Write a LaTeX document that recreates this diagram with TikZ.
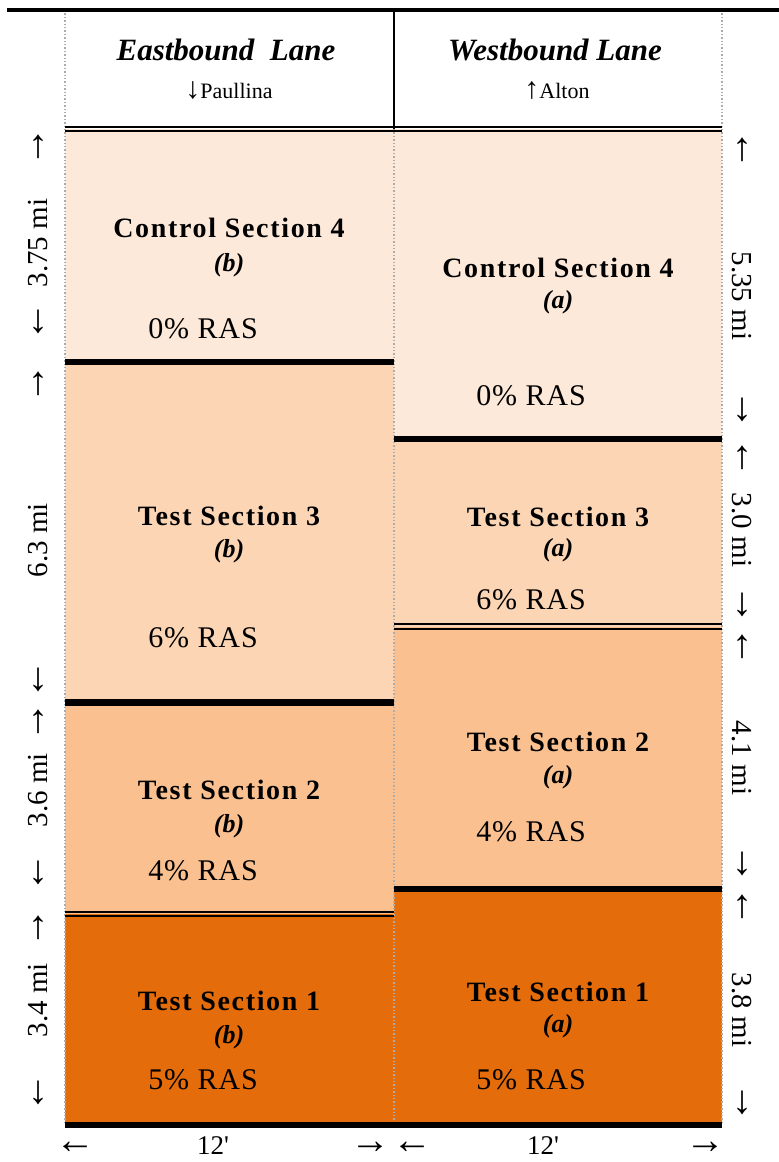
\documentclass[tikz,border=0pt]{standalone}
\usepackage{fontspec}
\setmainfont{Liberation Serif}
\newfontfamily\titlefont{Liberation Serif}[LetterSpace=6]
\newfontfamily\rasfont{Liberation Serif}[LetterSpace=3]
\newfontfamily\plainfont{Liberation Serif}
\definecolor{cfour}{HTML}{FDE9D9}
\definecolor{tthree}{HTML}{FCD5B4}
\definecolor{ttwo}{HTML}{FAC090}
\definecolor{tone}{HTML}{E46C0A}
\newcommand{\midarr}[1]{{\fontsize{30}{30}\selectfont #1}}
\begin{document}
\begin{tikzpicture}[x=1pt,y=-1pt,
  ttl/.style={inner sep=0pt,font=\titlefont\bfseries\fontsize{28}{30}\selectfont},
  sub/.style={inner sep=0pt,font=\bfseries\itshape\fontsize{26}{28}\selectfont},
  ras/.style={inner sep=0pt,font=\rasfont\fontsize{30}{32}\selectfont},
  hdr/.style={inner sep=0pt,font=\bfseries\itshape\fontsize{31}{33}\selectfont},
  hsub/.style={inner sep=0pt,font=\fontsize{22}{24}\selectfont},
  side/.style={inner sep=0pt,font=\fontsize{29}{32}\selectfont},
  arr/.style={inner sep=0pt,font=\fontsize{40}{40}\selectfont},
  thicksep/.style={line width=6.5pt},
  thinsep/.style={line width=2pt},
  border/.style={draw=gray!65,line width=1.4pt,dotted}
]
\useasboundingbox (0,0) rectangle (779,1162);
\fill[white] (0,0) rectangle (779,1162);
% section fills
\fill[cfour]  (65,129) rectangle (394,362);
\fill[tthree] (65,362) rectangle (394,702.5);
\fill[ttwo]   (65,702.5) rectangle (394,913.7);
\fill[tone]   (65,913.7) rectangle (394,1125);
\fill[cfour]  (394,129) rectangle (722,439);
\fill[tthree] (394,439) rectangle (722,626.5);
\fill[ttwo]   (394,626.5) rectangle (722,889);
\fill[tone]   (394,889) rectangle (722,1125);
% borders
\draw[border] (65,10) -- (65,1125);
\draw[border] (722,10) -- (722,1125);
\draw[border] (394,129) -- (394,1125);
\draw[line width=2.5pt] (394,10) -- (394,129);
\draw[line width=4pt] (7,10.3) -- (779,10.3);
% header double line
\draw[thinsep] (65,126.8) -- (722,126.8);
\draw[thinsep] (65,131.2) -- (722,131.2);
% left separators
\draw[thicksep] (65,362) -- (394,362);
\draw[thicksep] (65,702.5) -- (394,702.5);
\draw[thinsep] (65,911.7) -- (394,911.7);
\draw[thinsep] (65,915.7) -- (394,915.7);
% right separators
\draw[thicksep] (394,439) -- (722,439);
\draw[thinsep] (394,624.3) -- (722,624.3);
\draw[thinsep] (394,628.7) -- (722,628.7);
\draw[thicksep] (394,889) -- (722,889);
% bottom line
\draw[thicksep] (65,1125) -- (722,1125);
% header texts
\node[hdr] (eh) at (226,50) {Eastbound\ \ Lane};
\node[hsub] (ehs) at (229,91) {\midarr{↓}Paullina};
\node[hdr] (wh) at (555,50) {Westbound Lane};
\node[hsub] (whs) at (557,91) {\midarr{↑}Alton};
% left column texts
\node[ttl] (l4t) at (229,228) {Control Section 4};
\node[sub] (l4s) at (229,265) {(b)};
\node[ras] (l4r) at (203,329) {0\% RAS};
\node[ttl] (l3t) at (229,516) {Test Section 3};
\node[sub] (l3s) at (229,551) {(b)};
\node[ras] (l3r) at (203,638) {6\% RAS};
\node[ttl] (l2t) at (229,790) {Test Section 2};
\node[sub] (l2s) at (229,826) {(b)};
\node[ras] (l2r) at (203,871) {4\% RAS};
\node[ttl] (l1t) at (229,1001) {Test Section 1};
\node[sub] (l1s) at (229,1037) {(b)};
\node[ras] (l1r) at (203,1080) {5\% RAS};
% right column texts
\node[ttl] (r4t) at (558,268) {Control Section 4};
\node[sub] (r4s) at (558,302) {(a)};
\node[ras] (r4r) at (531,396) {0\% RAS};
\node[ttl] (r3t) at (558,517) {Test Section 3};
\node[sub] (r3s) at (558,550) {(a)};
\node[ras] (r3r) at (531,600) {6\% RAS};
\node[ttl] (r2t) at (558,742) {Test Section 2};
\node[sub] (r2s) at (558,777) {(a)};
\node[ras] (r2r) at (531,832) {4\% RAS};
\node[ttl] (r1t) at (558,992) {Test Section 1};
\node[sub] (r1s) at (558,1026) {(a)};
\node[ras] (r1r) at (531,1080) {5\% RAS};
% left side labels
\node[arr] (la1) at (38,147) {↑};
\node[side,rotate=90] (ll1) at (38,243) {3.75 mi};
\node[arr] (lb1) at (38,322) {↓};
\node[arr] (la2) at (38,384) {↑};
\node[side,rotate=90] (ll2) at (38,540) {6.3 mi};
\node[arr] (lb2) at (38,680) {↓};
\node[arr] (la3) at (38,722) {↑};
\node[side,rotate=90] (ll3) at (38,790) {3.6 mi};
\node[arr] (lb3) at (38,873) {↓};
\node[arr] (la4) at (38,928) {↑};
\node[side,rotate=90] (ll4) at (38,1000) {3.4 mi};
\node[arr] (lb4) at (38,1093) {↓};
% right side labels
\node[arr] (ra1) at (742,150) {↑};
\node[side,rotate=-90] (rl1) at (742,296) {5.35 mi};
\node[arr] (rb1) at (742,410) {↓};
\node[arr] (ra2) at (742,458) {↑};
\node[side,rotate=-90] (rl2) at (742,530) {3.0 mi};
\node[arr] (rb2) at (742,605) {↓};
\node[arr] (ra3) at (742,647) {↑};
\node[side,rotate=-90] (rl3) at (742,758) {4.1 mi};
\node[arr] (rb3) at (742,864) {↓};
\node[arr] (ra4) at (742,907) {↑};
\node[side,rotate=-90] (rl4) at (742,1010) {3.8 mi};
\node[arr] (rb4) at (742,1103) {↓};
% bottom width labels
\node[arr] (bl1) at (75,1148) {←};
\node[side,font=\plainfont\fontsize{27}{30}\selectfont] (bw1) at (213,1146) {12'};
\node[arr] (br1) at (370,1148) {→};
\node[arr] (bl2) at (412,1148) {←};
\node[side,font=\plainfont\fontsize{27}{30}\selectfont] (bw2) at (543,1146) {12'};
\node[arr] (br2) at (705,1148) {→};
\end{tikzpicture}
\end{document}
